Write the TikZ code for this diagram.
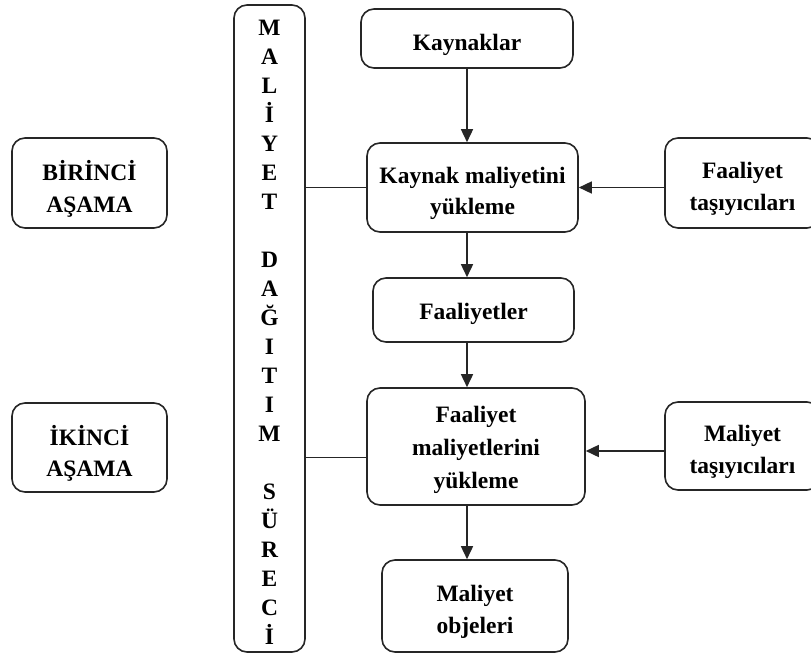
\documentclass[tikz,border=0pt]{standalone}
\usepackage{fontspec}
\setmainfont{Liberation Serif}
\usetikzlibrary{arrows.meta}
\begin{document}
\begin{tikzpicture}[x=1pt,y=-1pt,
  box/.style={draw=black!85, line width=1.6pt, rounded corners=13pt, inner sep=0pt},
  boxtext/.style={align=center, inner sep=0pt, yshift=-6pt,
    font=\fontsize{23.5}{31.5}\selectfont\bfseries},
  letters/.style={align=center, inner sep=0pt, font=\fontsize{23.5}{29}\selectfont\bfseries},
  arr/.style={draw=black!85, line width=1.6pt, -{Triangle[length=13pt,width=12pt]}},
  ln/.style={draw=black!85, line width=1.6pt}]
\useasboundingbox (0,0) rectangle (811,658);
\clip (0,0) rectangle (811,658);

% tall process box and its vertical title
\node[box, minimum width=71pt, minimum height=647pt] (tall) at (269.5,328.5) {};
\node[letters] (talltext) at (269.5,332)
  {M\\A\\L\\İ\\Y\\E\\T\\[29pt]D\\A\\Ğ\\I\\T\\I\\M\\[29pt]S\\Ü\\R\\E\\C\\İ};

% stage labels
\node[box, minimum width=155pt, minimum height=90pt,
  label={[boxtext]center:{BİRİNCİ\\AŞAMA}}] (bir) at (89.5,183) {};
\node[box, minimum width=155pt, minimum height=89pt,
  label={[boxtext]center:{İKİNCİ\\AŞAMA}}] (iki) at (89.5,447.5) {};

% main flow
\node[box, minimum width=212pt, minimum height=59pt,
  label={[boxtext]center:Kaynaklar}] (kay) at (467,38.5) {};
\node[box, minimum width=211pt, minimum height=89pt,
  label={[boxtext]center:{Kaynak maliyetini\\yükleme}}] (kmy) at (472.5,187.5) {};
\node[box, minimum width=201pt, minimum height=64pt,
  label={[boxtext,yshift=2pt]center:Faaliyetler}] (fa) at (473.5,310) {};
\node[box, minimum width=218pt, minimum height=117pt,
  label={[boxtext,yshift=3pt,font=\fontsize{23.5}{33}\selectfont\bfseries]center:{Faaliyet\\maliyetlerini\\yükleme}}] (fmy) at (476,446.5) {};
\node[box, minimum width=186pt, minimum height=92pt,
  label={[boxtext]center:{Maliyet\\objeleri}}] (mo) at (475,606) {};

% drivers
\node[box, minimum width=155pt, minimum height=90pt,
  label={[boxtext]center:{Faaliyet\\taşıyıcıları}}] (ft) at (742.5,183) {};
\node[box, minimum width=155pt, minimum height=88pt,
  label={[boxtext]center:{Maliyet\\taşıyıcıları}}] (mt) at (742.5,446) {};

% vertical arrows
\draw[arr] (kay.south) -- (kay.south |- kmy.north);
\draw[arr] (kay.south |- kmy.south) -- (kay.south |- fa.north);
\draw[arr] (kay.south |- fa.south) -- (kay.south |- fmy.north);
\draw[arr] (kay.south |- fmy.south) -- (kay.south |- mo.north);

% driver arrows
\draw[arr] (ft.west |- kmy.east) -- (kmy.east);
\draw[arr] ([yshift=-5pt]mt.west) -- ([yshift=-5pt]mt.west -| fmy.east);

% links from the process box
\draw[ln] (tall.east |- kmy.west) -- (kmy.west);
\draw[ln] ([yshift=-11pt]fmy.west -| tall.east) -- ([yshift=-11pt]fmy.west);
\end{tikzpicture}
\end{document}
